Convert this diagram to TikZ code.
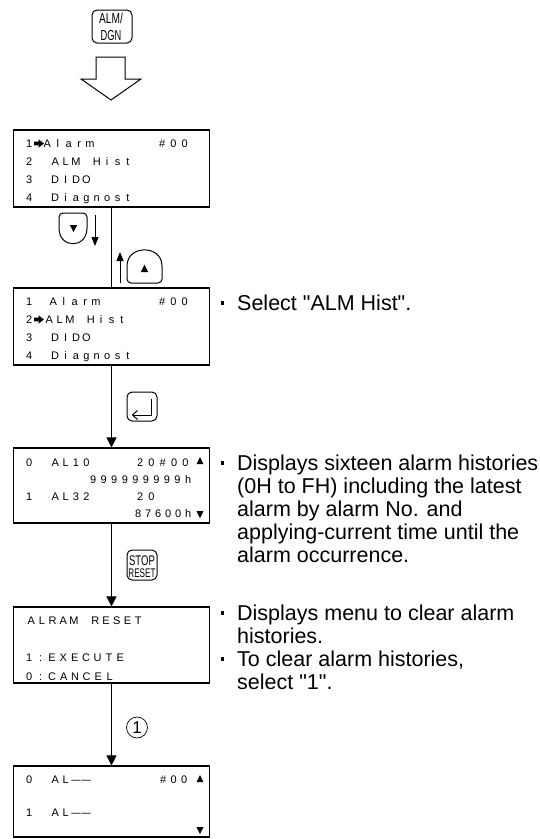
\documentclass[tikz,border=0pt]{standalone}
\usepackage{fontspec}
\setmainfont{Liberation Sans}
\usetikzlibrary{arrows.meta}
\ExplSyntaxOn
\NewDocumentCommand\lcd{O{10.4pt}m}{\tl_map_inline:nn{#2}{\makebox[#1]{##1}}}
\ExplSyntaxOff
\newcommand\lcdarrow[1]{\fill[shift={(0,#1)}] (34,-1.8) -- (38.5,-1.8) -- (38.5,-4.2) -- (44,0) -- (38.5,4.2) -- (38.5,1.8) -- (34,1.8) -- cycle;}
\newcommand\upmark[2]{\fill[shift={(#1,#2)}] (-3.5,3) -- (3.5,3) -- (0,-4) -- cycle;}
\newcommand\downmark[2]{\fill[shift={(#1,#2)}] (-3.5,-3) -- (3.5,-3) -- (0,4) -- cycle;}
\newcommand\dsh{\scalebox{0.85}[1]{—}}
\newcommand\qq{\textquotedbl}
\begin{document}
\begin{tikzpicture}[x=1pt,y=-1pt,
  lcdbox/.style={draw,line width=1.1pt,inner sep=0pt},
  lcdtxt/.style={anchor=base west,inner sep=0pt,font=\fontsize{11}{11}\selectfont},
  rtxt/.style={anchor=base west,inner sep=0pt,font=\fontsize{21.5}{23.5}\selectfont},
  keybox/.style={draw,line width=1pt,rounded corners=5pt,inner sep=0pt},
  keytxt/.style={anchor=base,inner sep=0pt},
  conn/.style={line width=1pt},
  arr/.style={conn,-{Triangle[length=10pt,width=10pt]}},
  smallarr/.style={conn,-{Triangle[length=9pt,width=7pt]}},
  bul/.style={fill,minimum size=3.8pt,inner sep=0pt}]
\useasboundingbox (0,0) rectangle (539,839);

% ALM/DGN key
\node[keybox,minimum width=40pt,minimum height=33pt] (kalm) at (112,26.5) {};
\node[keytxt,font=\fontsize{14.5}{14.5}\selectfont] (kalm1) at (111,23.5) {\scalebox{0.7}[1]{ALM/}};
\node[keytxt,font=\fontsize{14.5}{14.5}\selectfont] (kalm2) at (111,40.5) {\scalebox{0.64}[1]{DGN}};
% hollow arrow
\draw[line width=1pt,line join=miter] (96,57) -- (125,57) -- (125,79) -- (141,79) -- (111,100) -- (81,79) -- (96,79) -- cycle;

% boxes
\node[lcdbox,minimum width=196pt,minimum height=77pt] (b1) at (111.5,168.5) {};
\node[lcdbox,minimum width=196pt,minimum height=77pt] (b2) at (111.5,326.5) {};
\node[lcdbox,minimum width=196pt,minimum height=75pt] (b3) at (111.5,485.5) {};
\node[lcdbox,minimum width=196pt,minimum height=76pt] (b4) at (111.5,645) {};
\node[lcdbox,minimum width=196pt,minimum height=71pt] (b5) at (111.5,801.5) {};

% connectors
\draw[conn] (b1.south) -- (b2.north);
\draw[arr] (b2.south) -- (b3.north);
\draw[arr] (b3.south) -- (b4.north);
\draw[arr] (b4.south) -- (b5.north);

% box 1 text
\node[lcdtxt] (a11) at (23.8,147.5) {\lcd{1}};
\lcdarrow{143.5}
\node[lcdtxt] (a12) at (41.65,147.5) {\lcd[10.7pt]{Alarm}};
\node[lcdtxt] (a13) at (156.35,147.5) {\lcd[11.3pt]{\#00}};
\node[lcdtxt] (a14) at (23.8,165.5) {\lcd{2}};
\node[lcdtxt] (a15) at (49.8,165.5) {\lcd{ALM~Hist}};
\node[lcdtxt] (a16) at (23.8,183.5) {\lcd{3}};
\node[lcdtxt] (a17) at (49.8,183.5) {\lcd{DIDO}};
\node[lcdtxt] (a18) at (23.8,201.5) {\lcd{4}};
\node[lcdtxt] (a19) at (49.8,201.5) {\lcd{Diagnost}};

% keys between box 1 and 2
\draw[line width=1pt] (59,228) -- (59,216) [rounded corners=4pt] -- (59,213) -- (87,213) [sharp corners] -- (87,228) .. controls (87,249) and (59,249) .. (59,228) -- cycle;
\fill (69.8,225) -- (77.2,225) -- (73.5,232) -- cycle;
\coordinate (dn1) at (95,215);
\coordinate (dn2) at (95,246);
\draw[smallarr] (dn1) -- (dn2);
\draw[line width=1pt] (127,266) -- (127,280) [rounded corners=4pt] -- (127,283) -- (162,283) [sharp corners] -- (162,266) .. controls (162,244.5) and (127,244.5) .. (127,266) -- cycle;
\fill (140.8,272) -- (148.2,272) -- (144.5,264.5) -- cycle;
\coordinate (up1) at (120,283);
\coordinate (up2) at (120,252);
\draw[smallarr] (up1) -- (up2);

% box 2 text
\node[lcdtxt] (a21) at (23.8,305.5) {\lcd{1}};
\node[lcdtxt] (a22) at (47.65,305.5) {\lcd[10.7pt]{Alarm}};
\node[lcdtxt] (a23) at (156.35,305.5) {\lcd[11.3pt]{\#00}};
\node[lcdtxt] (a24) at (23.8,323.5) {\lcd{2}};
\lcdarrow{319.5}
\node[lcdtxt] (a25) at (43.8,323.5) {\lcd{ALM~Hist}};
\node[lcdtxt] (a26) at (23.8,341.5) {\lcd{3}};
\node[lcdtxt] (a27) at (49.8,341.5) {\lcd{DIDO}};
\node[lcdtxt] (a28) at (23.8,359.5) {\lcd{4}};
\node[lcdtxt] (a29) at (49.8,359.5) {\lcd{Diagnost}};

% enter key
\node[keybox,minimum width=30pt,minimum height=29pt] (kent) at (142,406.5) {};
\draw[line width=1pt] (151,398.5) -- (151,415) -- (132.5,415);
\draw[line width=1pt] (137.5,410.5) -- (132.5,415) -- (137.5,419.5);

% box 3 text
\node[lcdtxt] (a31) at (23.8,466) {\lcd{0}};
\node[lcdtxt] (a32) at (49.8,466) {\lcd{AL10}};
\node[lcdtxt] (a33) at (134.35,466) {\lcd[11.3pt]{20\#00}};
\upmark{200}{461}
\node[lcdtxt] (a34) at (87.7,483) {\lcd[10.55pt]{999999999h}};
\node[lcdtxt] (a35) at (23.8,500) {\lcd{1}};
\node[lcdtxt] (a36) at (49.8,500) {\lcd{AL32}};
\node[lcdtxt] (a37) at (134.35,500) {\lcd[11.3pt]{20}};
\node[lcdtxt] (a38) at (133,517) {\lcd[10pt]{87600h}};
\downmark{200}{514}

% STOP/RESET key
\node[keybox,minimum width=30pt,minimum height=30pt] (kstop) at (142,565) {};
\node[keytxt,font=\fontsize{14}{14}\selectfont] (kst1) at (142,565) {\scalebox{0.68}[1]{STOP}};
\node[keytxt,font=\fontsize{12.5}{12.5}\selectfont] (kst2) at (142,577.5) {\scalebox{0.65}[1]{RESET}};

% box 4 text
\node[lcdtxt] (a41) at (25.65,624) {\lcd[10.7pt]{ALRAM~RESET}};
\node[lcdtxt] (a42) at (23.3,661) {\lcd[11.4pt]{1:EXECUTE}};
\node[lcdtxt] (a43) at (23.25,680) {\lcd[11.5pt]{0:CANCEL}};

% circled 1
\node[circle,draw,line width=0.7pt,minimum size=21pt,inner sep=0pt,font=\fontsize{17}{17}\selectfont] (c1) at (137,727.5) {1};

% box 5 text
\node[lcdtxt] (a51) at (23.8,783) {\lcd{0}};
\node[lcdtxt] (a52) at (49.8,783) {\lcd{AL\dsh\dsh}};
\node[lcdtxt] (a53) at (157.75,783) {\lcd[10.5pt]{\#00}};
\upmark{200}{779}
\node[lcdtxt] (a54) at (23.8,816) {\lcd{1}};
\node[lcdtxt] (a55) at (49.8,816) {\lcd{AL\dsh\dsh}};
\downmark{200}{830}

% right-hand texts
\node[bul] (s1) at (222.5,303) {};
\node[rtxt] (r1) at (237,310.5) {Select \qq ALM Hist\qq .};

\node[bul] (s2) at (222.5,463) {};
\node[rtxt] (r21) at (237,470.5) {Displays sixteen alarm histories};
\node[rtxt] (r22) at (237,493.5) {(0H to FH) including the latest};
\node[rtxt] (r23) at (237,516.5) {alarm by alarm No. and};
\node[rtxt] (r24) at (237,539.5) {applying-current time until the};
\node[rtxt] (r25) at (237,562.5) {alarm occurrence.};

\node[bul] (s3) at (222.5,613) {};
\node[rtxt] (r31) at (237,620.5) {Displays menu to clear alarm};
\node[rtxt] (r32) at (237,643.5) {histories.};
\node[bul] (s4) at (222.5,659) {};
\node[rtxt] (r33) at (237,666.5) {To clear alarm histories,};
\node[rtxt] (r34) at (237,689.5) {select \qq 1\qq .};
\end{tikzpicture}
\end{document}
